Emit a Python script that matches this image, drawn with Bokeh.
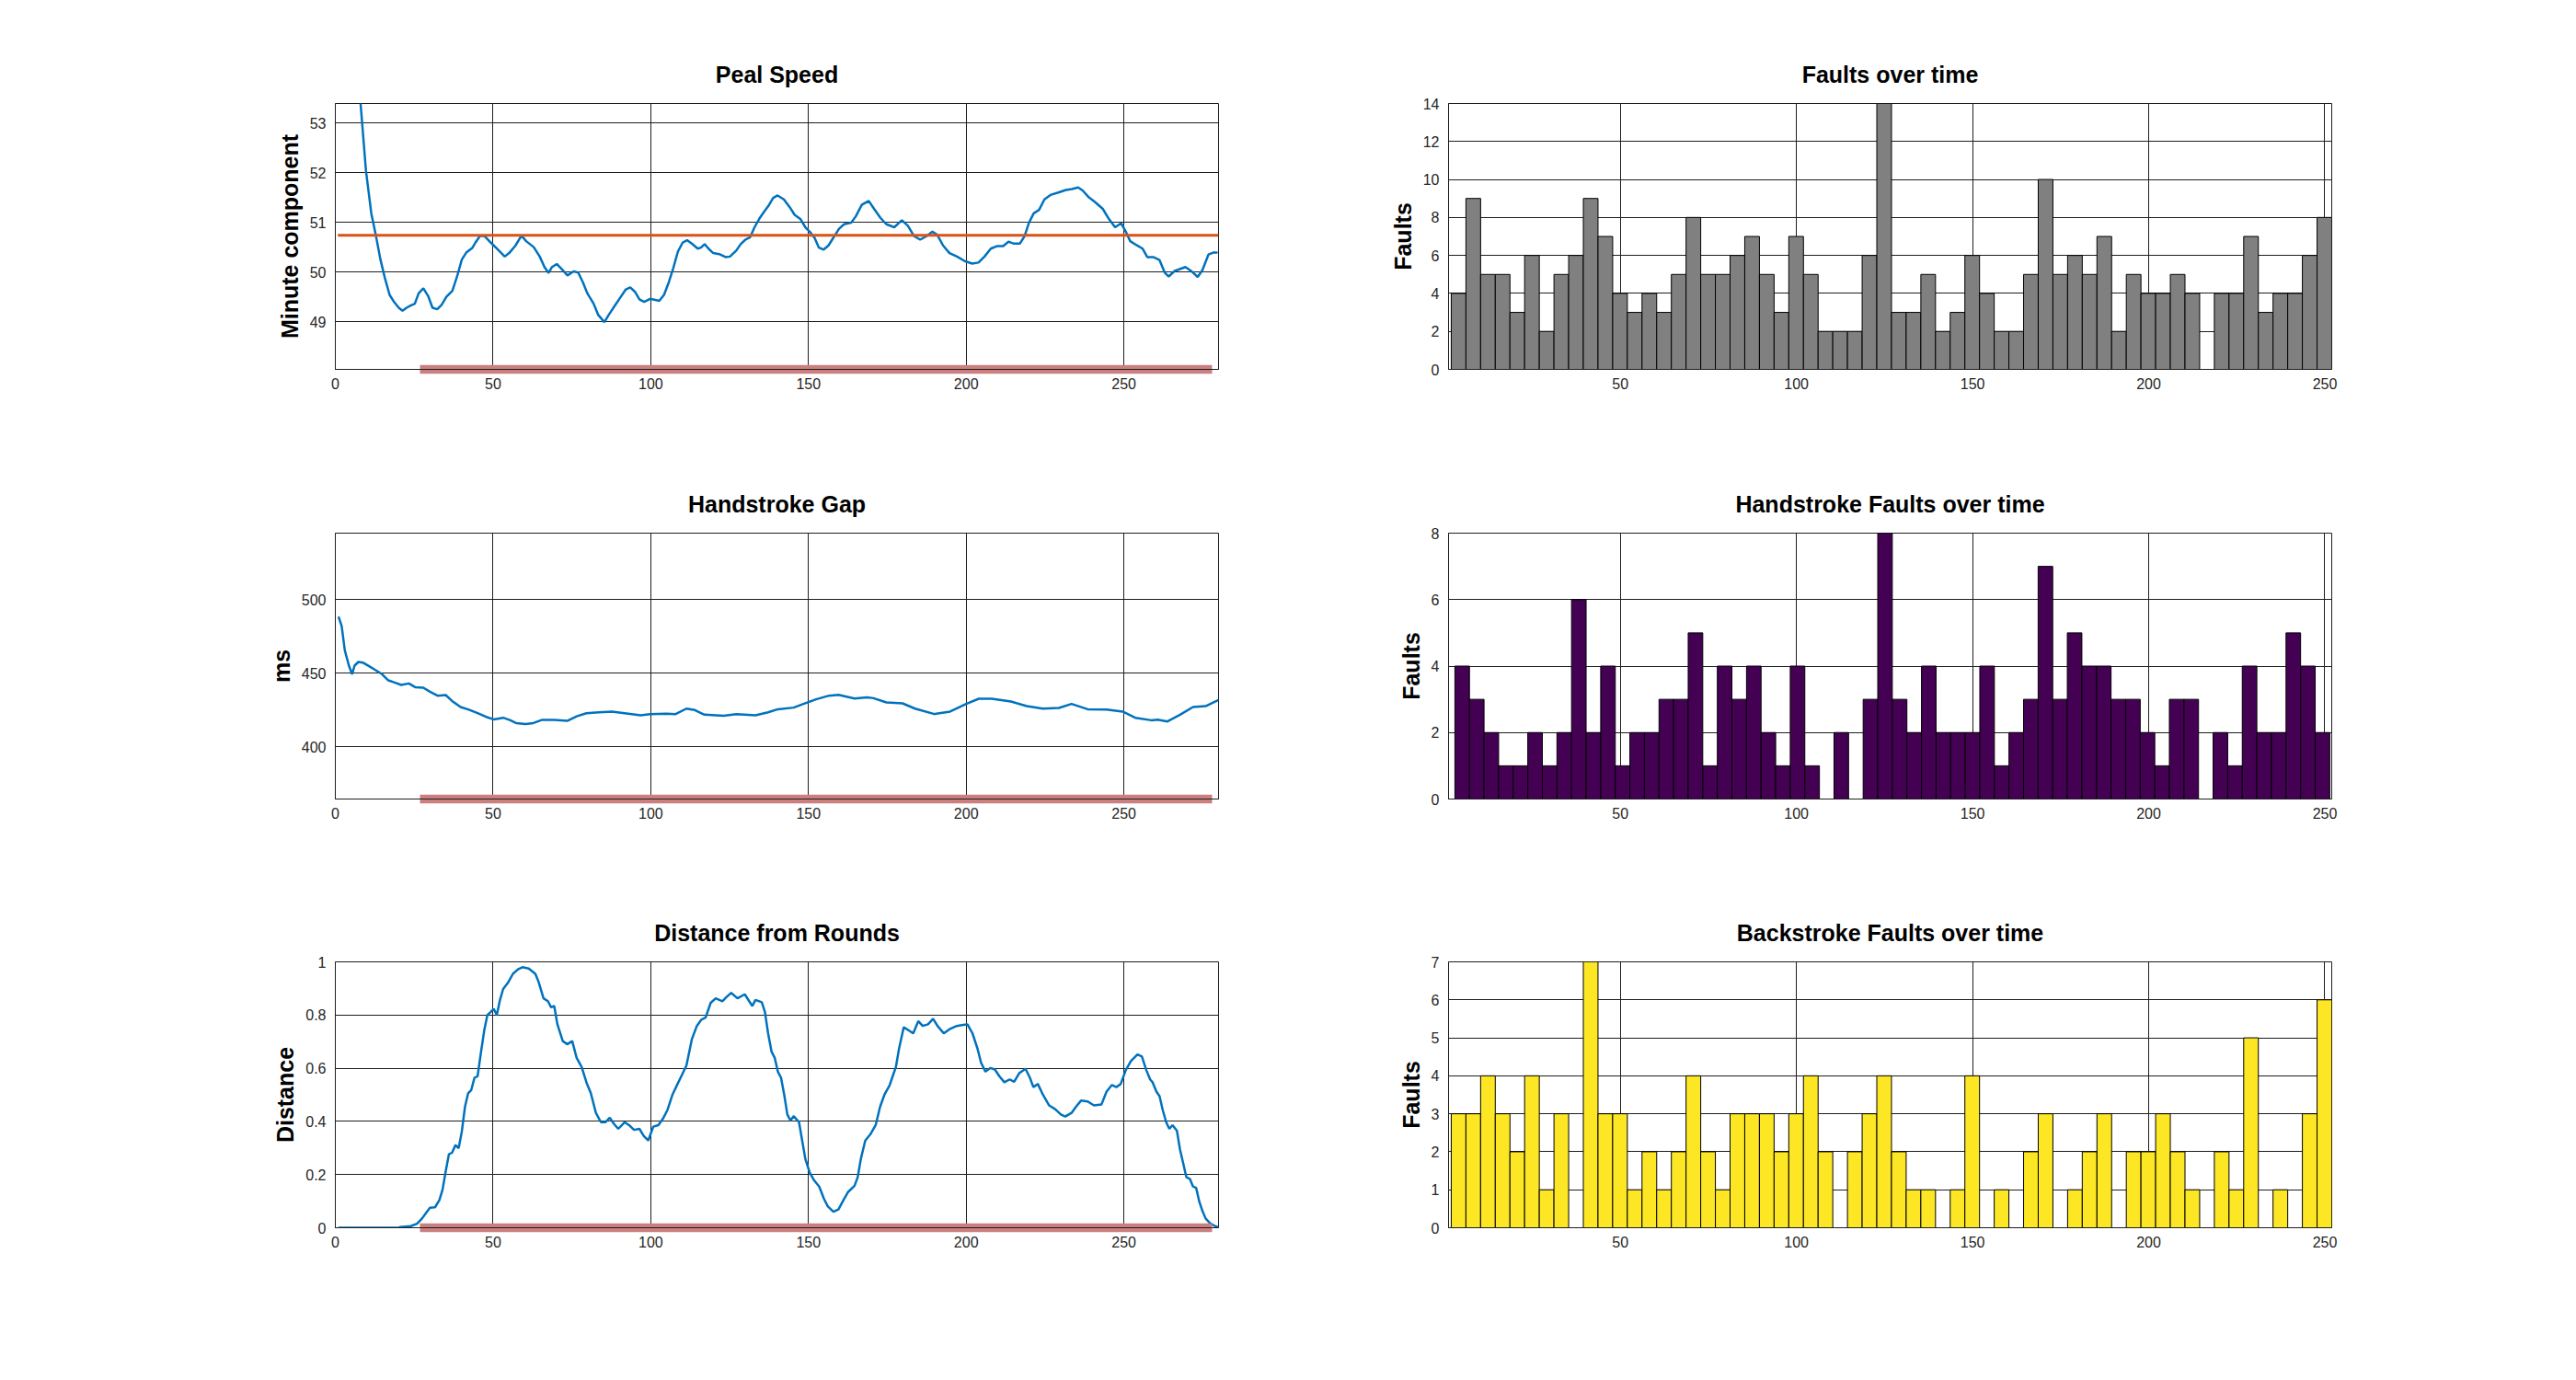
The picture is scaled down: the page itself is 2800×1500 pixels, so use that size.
from bokeh.plotting import figure
from bokeh.layouts import column, row
from bokeh.models import Range1d, FixedTicker, Span, LinearAxis
from bokeh.embed import file_html
from bokeh.resources import INLINE
import numpy as np

# ---------------- data ----------------
peal_speed_points = [
    (1, 58.5), (4, 56.0), (6, 54.6), (8.0, 53.39), (9.7, 52.04), (11.4, 51.18), (12.8, 50.75),
    (14.3, 50.25), (15.7, 49.88), (17.2, 49.54), (18.7, 49.39), (20.1, 49.28), (21.3, 49.22),
    (22.6, 49.28), (24.0, 49.33), (25.2, 49.36), (26.4, 49.57), (27.9, 49.67), (29.4, 49.52),
    (30.8, 49.28), (32.3, 49.25), (33.7, 49.34), (35.2, 49.50), (37.1, 49.62), (38.6, 49.91),
    (40.1, 50.25), (41.5, 50.39), (43.5, 50.49), (44.4, 50.59), (45.9, 50.73), (47.3, 50.72),
    (49.3, 50.59), (51.2, 50.47), (53.7, 50.31), (55.1, 50.38), (57.1, 50.53), (59.0, 50.73),
    (60.5, 50.62), (62.9, 50.50), (64.8, 50.31), (66.3, 50.10), (67.6, 49.98), (68.7, 50.10),
    (70.2, 50.16), (71.6, 50.07), (73.6, 49.93), (75.5, 50.01), (77.0, 49.99), (78.5, 49.79),
    (79.9, 49.57), (81.9, 49.36), (83.3, 49.14), (85.3, 48.99), (86.7, 49.14), (88.7, 49.33),
    (90.6, 49.51), (92.1, 49.65), (93.5, 49.69), (95.0, 49.60), (96.4, 49.45), (97.9, 49.40),
    (99.8, 49.46), (102.7, 49.42), (104.2, 49.54), (105.7, 49.79), (107.1, 50.07), (108.6, 50.41),
    (110.1, 50.59), (111.5, 50.64), (113.0, 50.57), (114.9, 50.47), (115.9, 50.49), (117.1, 50.56),
    (118.3, 50.47), (119.8, 50.38), (121.7, 50.36), (123.7, 50.30), (125.1, 50.31), (127.1, 50.43),
    (128.5, 50.56), (130.0, 50.65), (131.5, 50.70), (132.9, 50.90), (134.4, 51.07), (135.9, 51.21),
    (137.3, 51.33), (138.8, 51.49), (140.2, 51.54), (142.2, 51.46), (144.1, 51.30), (145.6, 51.15),
    (147.5, 51.06), (149.0, 50.90), (150.4, 50.81), (151.9, 50.69), (153.3, 50.49), (154.8, 50.45),
    (156.3, 50.53), (158.2, 50.72), (159.7, 50.87), (161.3, 50.96), (163.5, 50.99), (165.0, 51.12),
    (166.9, 51.35), (169.1, 51.43), (170.8, 51.27), (172.8, 51.09), (174.7, 50.96), (177.2, 50.90),
    (179.6, 51.04), (181.5, 50.93), (183.5, 50.72), (185.4, 50.65), (187.4, 50.72), (189.3, 50.81),
    (190.8, 50.75), (192.7, 50.53), (194.7, 50.38), (197.1, 50.31), (199.5, 50.22), (201.9, 50.17),
    (203.9, 50.19), (205.8, 50.31), (207.8, 50.47), (209.7, 50.52), (211.7, 50.52), (213.4, 50.61),
    (215.1, 50.57), (217.0, 50.57), (218.5, 50.72), (219.9, 50.99), (221.4, 51.18), (223.1, 51.25),
    (224.8, 51.46), (226.7, 51.55), (229.2, 51.60), (231.6, 51.65), (233.5, 51.67), (235.5, 51.70),
    (236.9, 51.64), (238.9, 51.50), (240.8, 51.41), (243.3, 51.27), (245.2, 51.07), (247.2, 50.90),
    (249.1, 50.98), (250.6, 50.81), (252.0, 50.62), (254.0, 50.54), (255.9, 50.47), (257.4, 50.30),
    (259.3, 50.30), (261.3, 50.24), (263.0, 49.98), (264.2, 49.91), (266.1, 50.02), (269.5, 50.10),
    (271.5, 50.01), (273.4, 49.90), (274.9, 50.04), (276.8, 50.35), (278.3, 50.39), (279.7, 50.39),
]
peal_mean = 50.74
peal_mean_span = [0.8, 280]

handstroke_gap_points = [
    (1.0, 488.3), (2.0, 482), (3.0, 465.4), (4.3, 455), (5.3, 449.2), (6.1, 455), (7.3, 457.5),
    (8.7, 457.1), (10.7, 454.6), (12.8, 451.9), (14.8, 449.2), (16.8, 445), (18.8, 443.5),
    (20.9, 441.9), (23.3, 442.9), (25.3, 440.4), (27.9, 440), (30.0, 437.3), (32.4, 434.6),
    (35.0, 435), (37.0, 431), (39.7, 426.9), (42.7, 424.8), (45.1, 422.7), (47.8, 420.2),
    (50.2, 418.5), (53.2, 419.6), (55.3, 418.1), (57.3, 416), (60.3, 415.4), (62.8, 416),
    (65.4, 418.1), (69.4, 418.1), (73.5, 417.5), (76.5, 420.6), (79.6, 422.7), (83.6, 423.3),
    (87.7, 423.8), (91.7, 422.7), (96.8, 421.3), (99.8, 422.1), (104.9, 422.3), (107.9, 422.1),
    (111.3, 425.8), (114.0, 424.8), (117.0, 421.7), (123.1, 421), (127.1, 422.1), (133.2, 421.3),
    (137.2, 423.3), (140.3, 425.4), (145.3, 426.5), (148.4, 429), (152.4, 432.1), (156.5, 434.6),
    (159.5, 435.2), (164.6, 432.7), (168.6, 433.5), (170.6, 432.9), (174.7, 430), (179.8, 429.4),
    (183.8, 425.8), (189.9, 422.1), (194.9, 423.8), (200.0, 429), (204.0, 432.5), (208.1, 432.5),
    (214.2, 430.6), (219.2, 427.5), (224.3, 425.8), (229.4, 426.3), (233.4, 429), (238.5, 425.4),
    (244.5, 425.2), (249.6, 423.8), (253.6, 419.6), (258.7, 417.9), (260.7, 418.3), (263.8, 417.1),
    (267.8, 421.7), (271.9, 426.9), (275.9, 427.5), (280.0, 431.7),
]

distance_points = [
    (1.0, 0.0), (20.2, 0.0), (20.5, 0.003), (23.9, 0.006), (25.9, 0.015), (27.5, 0.035),
    (28.9, 0.058), (30.0, 0.075), (31.6, 0.077), (33.0, 0.104), (34.0, 0.144), (35.0, 0.213),
    (36.0, 0.276), (37.0, 0.282), (38.1, 0.311), (39.1, 0.299), (40.1, 0.362), (41.1, 0.455),
    (42.1, 0.506), (43.1, 0.518), (44.1, 0.564), (45.1, 0.570), (46.2, 0.662), (47.2, 0.742),
    (48.2, 0.800), (49.2, 0.811), (50.2, 0.823), (51.2, 0.800), (52.2, 0.857), (53.2, 0.898),
    (54.7, 0.921), (56.3, 0.955), (57.9, 0.972), (59.3, 0.980), (61.3, 0.975), (63.4, 0.955),
    (64.4, 0.926), (66.0, 0.863), (67.4, 0.852), (68.4, 0.829), (69.4, 0.834), (70.4, 0.765),
    (72.1, 0.702), (73.5, 0.690), (75.1, 0.702), (76.5, 0.639), (78.1, 0.604), (79.6, 0.547),
    (81.0, 0.506), (82.6, 0.432), (84.2, 0.397), (85.6, 0.397), (87.0, 0.414), (88.3, 0.391),
    (89.7, 0.372), (91.7, 0.397), (93.1, 0.386), (94.7, 0.368), (96.4, 0.372), (97.8, 0.345),
    (99.2, 0.328), (100.8, 0.380), (102.4, 0.386), (103.8, 0.409), (105.3, 0.443), (106.9, 0.501),
    (108.5, 0.541), (109.9, 0.575), (111.3, 0.610), (113.0, 0.708), (114.6, 0.759), (116.0, 0.782),
    (117.4, 0.791), (119.0, 0.846), (120.6, 0.863), (122.7, 0.852), (124.1, 0.869), (125.5, 0.883),
    (127.5, 0.863), (129.8, 0.878), (131.2, 0.852), (132.2, 0.834), (133.2, 0.857), (135.2, 0.848),
    (136.2, 0.811), (137.2, 0.731), (138.3, 0.662), (139.3, 0.639), (140.3, 0.587), (141.3, 0.564),
    (142.3, 0.501), (143.3, 0.426), (144.3, 0.403), (145.3, 0.420), (147.0, 0.397), (148.0, 0.328),
    (149.0, 0.259), (150.4, 0.207), (151.8, 0.178), (153.4, 0.155), (154.9, 0.109), (156.1, 0.081),
    (157.9, 0.060), (159.5, 0.069), (161.1, 0.104), (162.6, 0.135), (164.6, 0.158), (165.6, 0.190),
    (166.6, 0.259), (168.0, 0.328), (169.6, 0.351), (171.3, 0.386), (172.7, 0.455), (174.1, 0.501),
    (175.7, 0.535), (176.7, 0.570), (177.7, 0.604), (178.7, 0.673), (180.2, 0.754), (181.8, 0.742),
    (183.2, 0.731), (184.8, 0.777), (186.2, 0.759), (187.9, 0.765), (189.5, 0.786), (190.9, 0.759),
    (192.9, 0.731), (194.9, 0.748), (197.0, 0.759), (199.0, 0.763), (200.4, 0.765), (202.0, 0.731),
    (203.6, 0.673), (204.7, 0.621), (206.1, 0.587), (207.7, 0.601), (209.1, 0.595), (210.5, 0.570),
    (212.1, 0.547), (213.8, 0.558), (215.2, 0.549), (216.8, 0.581), (218.8, 0.598), (220.2, 0.564),
    (221.3, 0.529), (222.7, 0.541), (224.3, 0.501), (226.3, 0.460), (228.3, 0.445), (230.0, 0.426),
    (231.4, 0.418), (233.4, 0.432), (234.8, 0.455), (236.4, 0.478), (238.5, 0.475), (240.5, 0.460),
    (242.9, 0.464), (244.5, 0.512), (246.2, 0.537), (247.6, 0.529), (249.0, 0.541), (250.6, 0.593),
    (252.2, 0.627), (254.3, 0.652), (255.7, 0.644), (257.1, 0.593), (258.3, 0.558), (259.1, 0.547),
    (260.3, 0.512), (261.3, 0.495), (262.3, 0.443), (263.4, 0.397), (264.4, 0.372), (265.4, 0.386),
    (266.8, 0.365), (267.8, 0.293), (268.8, 0.242), (269.8, 0.190), (270.9, 0.184), (271.9, 0.155),
    (272.9, 0.150), (273.9, 0.098), (274.9, 0.063), (275.9, 0.035), (277.3, 0.017), (278.9, 0.006),
    (280.0, 0.002),
]

touch_span = [26.7, 278.1]

faults_counts = [4, 9, 5, 5, 3, 6, 2, 5, 6, 9, 7, 4, 3, 4, 3, 5, 8, 5, 5, 6, 7, 5, 3, 7, 5, 2, 2, 2, 6, 14,
                 3, 3, 5, 2, 3, 6, 4, 2, 2, 5, 10, 5, 6, 5, 7, 2, 5, 4, 4, 5, 4, 0, 4, 4, 7, 3, 4, 4, 6, 8]
faults_bin_range = [2.0, 251.96]

hand_counts = [4, 3, 2, 1, 1, 2, 1, 2, 6, 2, 4, 1, 2, 2, 3, 3, 5, 1, 4, 3, 4, 2, 1, 4, 1, 0, 2, 0, 3, 8,
               3, 2, 4, 2, 2, 2, 4, 1, 2, 3, 7, 3, 5, 4, 4, 3, 3, 2, 1, 3, 3, 0, 2, 1, 4, 2, 2, 5, 4, 2]
hand_bin_range = [3.03, 251.4]

back_counts = [3, 3, 4, 3, 2, 4, 1, 3, 0, 7, 3, 3, 1, 2, 1, 2, 4, 2, 1, 3, 3, 3, 2, 3, 4, 2, 0, 2, 3, 4,
               2, 1, 1, 0, 1, 4, 0, 1, 0, 2, 3, 0, 1, 2, 3, 0, 2, 2, 3, 2, 1, 0, 2, 1, 5, 0, 1, 0, 3, 6]
back_bin_range = [2.0, 251.96]

left_xticks = [0, 50, 100, 150, 200, 250]
right_xticks = [50, 100, 150, 200, 250]
peal_yticks = [49, 50, 51, 52, 53]
gap_yticks = [400, 450, 500]
dist_yticks = [0, 0.2, 0.4, 0.6, 0.8, 1]
dist_ylabels = ["0", "0.2", "0.4", "0.6", "0.8", "1"]
faults_yticks = [0, 2, 4, 6, 8, 10, 12, 14]
hand_yticks = [0, 2, 4, 6, 8]
back_yticks = [0, 1, 2, 3, 4, 5, 6, 7]

# ---------------- styling ----------------
BLUE = "#0072BD"
ORANGE = "#D95319"
BAND = "#CC7F7F"
DARK = "#1E1E1E"
TICK = "#262626"
FONT = "Liberation Sans"


def make_fig(title, w, h, bl, br, bt, bb, xr, yr, xticks, yticks, ylabel, ylabels=None):
    p = figure(width=w, height=h, x_range=Range1d(*xr), y_range=Range1d(*yr),
               output_backend="svg", toolbar_location=None,
               min_border_left=bl, min_border_right=br, min_border_top=bt, min_border_bottom=bb,
               title=title)
    p.title.align = "center"
    p.title.text_font = FONT
    p.title.text_font_size = "25px"
    p.title.text_font_style = "bold"
    p.title.text_color = "black"
    p.title.standoff = 35
    p.background_fill_color = "white"
    p.border_fill_color = "white"
    p.outline_line_color = DARK
    p.outline_line_width = 1
    p.outline_line_alpha = 1
    p.xaxis.ticker = FixedTicker(ticks=xticks)
    p.yaxis.ticker = FixedTicker(ticks=yticks)
    if ylabels is not None:
        p.yaxis.major_label_overrides = {t: s for t, s in zip(yticks, ylabels)}
    for ax in (p.xaxis[0], p.yaxis[0]):
        ax.major_label_text_font = FONT
        ax.major_label_text_font_size = "16px"
        ax.major_label_text_color = TICK
        ax.major_tick_in = 0
        ax.major_tick_out = 0
        ax.minor_tick_in = 0
        ax.minor_tick_out = 0
        ax.axis_line_color = DARK
        ax.axis_line_width = 1
    p.xaxis.major_label_standoff = 9
    p.yaxis.major_label_standoff = 10
    p.yaxis.axis_label = ylabel
    p.yaxis.axis_label_text_font = FONT
    p.yaxis.axis_label_text_font_size = "25px"
    p.yaxis.axis_label_text_font_style = "bold"
    p.yaxis.axis_label_text_color = "black"
    p.yaxis.axis_label_standoff = 5
    for g in (p.xgrid[0], p.ygrid[0]):
        g.grid_line_color = DARK
        g.grid_line_width = 1
        g.grid_line_alpha = 1
    return p


def add_band(p, ybottom):
    # thick band straddling the bottom edge of the frame: a bounded, label-less axis
    # placed in the bottom panel nearest to the frame (axis lines are not clipped to the frame)
    band = LinearAxis(bounds=(touch_span[0], touch_span[1]),
                      ticker=FixedTicker(ticks=[]),
                      axis_line_color=BAND, axis_line_width=9.7, axis_line_cap="butt",
                      major_tick_in=0, major_tick_out=0, minor_tick_in=0, minor_tick_out=0,
                      major_label_text_font_size="0px", major_label_standoff=0)
    p.below = [band] + list(p.below)
    p.add_layout(Span(location=ybottom, dimension="width", line_color=DARK, line_width=1))


def add_hist(p, counts, rng, color):
    edges = np.linspace(rng[0], rng[1], len(counts) + 1)
    c = np.array(counts, dtype=float)
    m = c > 0
    p.quad(left=edges[:-1][m], right=edges[1:][m], bottom=0, top=c[m],
           fill_color=color, line_color="black", line_width=1)


LW, LBL, LBR = 1434, 364, 110
RW, RBL, RBR = 1160, 140, 60
ROWS = [(481, 112, 80), (467, 98, 80), (466, 97, 80)]

# Peal speed
h, bt, bb = ROWS[0]
peal_range = (48.04, 53.39)
p1 = make_fig("Peal Speed", LW, h, LBL, LBR, bt, bb, (0, 280), peal_range, left_xticks, peal_yticks,
              "Minute component")
px, py = zip(*peal_speed_points)
p1.line(list(px), list(py), line_color=BLUE, line_width=2.5)
p1.line(peal_mean_span, [peal_mean, peal_mean], line_color=ORANGE, line_width=3)
add_band(p1, peal_range[0])

p2 = make_fig("Faults over time", RW, h, RBL, RBR, bt, bb, (1.23, 251.96), (0, 14), right_xticks,
              faults_yticks, "Faults")
add_hist(p2, faults_counts, faults_bin_range, "#808080")

# Handstroke gap
h, bt, bb = ROWS[1]
gap_range = (364.4, 545)
p3 = make_fig("Handstroke Gap", LW, h, LBL, LBR, bt, bb, (0, 280), gap_range, left_xticks, gap_yticks, "ms")
gx, gy = zip(*handstroke_gap_points)
p3.line(list(gx), list(gy), line_color=BLUE, line_width=2.5)
add_band(p3, gap_range[0])

p4 = make_fig("Handstroke Faults over time", RW, h, RBL, RBR, bt, bb, (1.23, 251.96), (0, 8), right_xticks,
              hand_yticks, "Faults")
add_hist(p4, hand_counts, hand_bin_range, "#440154")

# Distance from rounds
h, bt, bb = ROWS[2]
p5 = make_fig("Distance from Rounds", LW, h, LBL, LBR, bt, bb, (0, 280), (0, 1), left_xticks, dist_yticks,
              "Distance", dist_ylabels)
dx, dy = zip(*distance_points)
p5.line(list(dx), list(dy), line_color=BLUE, line_width=2.5)
add_band(p5, 0)

p6 = make_fig("Backstroke Faults over time", RW, h, RBL, RBR, bt, bb, (1.23, 251.96), (0, 7), right_xticks,
              back_yticks, "Faults")
add_hist(p6, back_counts, back_bin_range, "#FDE725")

layout = column(row(p1, p2), row(p3, p4), row(p5, p6))
open("out.html", "w").write(file_html(layout, INLINE))
